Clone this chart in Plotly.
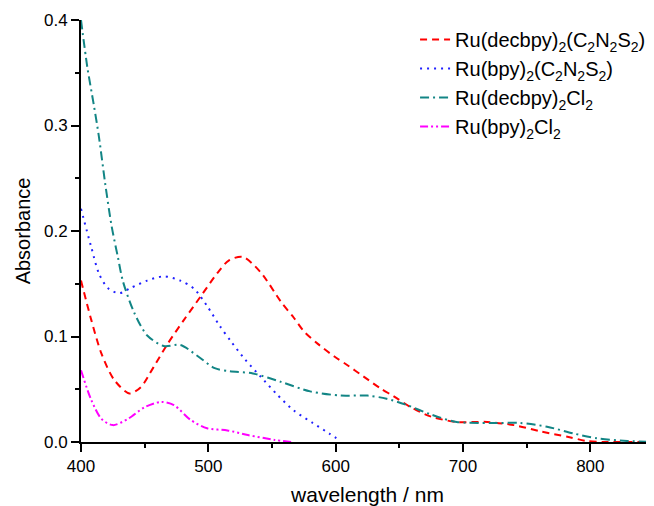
import plotly.graph_objects as go

# Ru(decbpy)2(C2N2S2) - red dashed
wl_red = [400, 408, 416, 426, 438, 447, 457, 468, 481, 494, 507, 516, 527, 541, 557, 567, 575, 586, 599, 609, 622, 635, 646, 659, 675, 695, 719, 740, 761, 782, 797, 810, 830, 850]
ab_red = [0.153, 0.116, 0.084, 0.059, 0.046, 0.052, 0.071, 0.093, 0.116, 0.138, 0.160, 0.172, 0.1755, 0.161, 0.133, 0.118, 0.105, 0.093, 0.081, 0.073, 0.062, 0.051, 0.043, 0.033, 0.024, 0.019, 0.019, 0.016, 0.010, 0.005, 0.001, 0.0, 0.0, 0.0]

# Ru(bpy)2(C2N2S2) - blue dotted
wl_blue = [400, 408, 414, 421, 430, 439, 452, 465, 478, 489, 499, 509, 518, 529, 541, 554, 567, 582, 595, 604]
ab_blue = [0.221, 0.185, 0.160, 0.146, 0.141, 0.146, 0.153, 0.157, 0.153, 0.145, 0.129, 0.110, 0.095, 0.078, 0.062, 0.045, 0.030, 0.018, 0.008, 0.001]

# Ru(decbpy)2Cl2 - teal dash-dot
wl_teal = [400, 405, 410, 414, 419, 424, 429, 433, 442, 452, 465, 478, 491, 505, 517, 535, 557, 580, 604, 625, 640, 656, 675, 695, 722, 745, 766, 787, 805, 829, 850]
ab_teal = [0.400, 0.355, 0.320, 0.290, 0.245, 0.205, 0.175, 0.152, 0.122, 0.101, 0.091, 0.092, 0.082, 0.070, 0.067, 0.065, 0.057, 0.048, 0.044, 0.044, 0.041, 0.035, 0.026, 0.019, 0.018, 0.018, 0.0145, 0.008, 0.0035, 0.001, 0.0]

# Ru(bpy)2Cl2 - magenta dash-dot-dot
wl_mag = [400, 408, 416, 425, 437, 450, 463, 473, 486, 499, 515, 531, 552, 565]
ab_mag = [0.068, 0.040, 0.022, 0.016, 0.022, 0.033, 0.038, 0.035, 0.021, 0.013, 0.011, 0.0066, 0.002, 0.0]

names = ["Ru(decbpy)<sub>2</sub>(C<sub>2</sub>N<sub>2</sub>S<sub>2</sub>)",
         "Ru(bpy)<sub>2</sub>(C<sub>2</sub>N<sub>2</sub>S<sub>2</sub>)",
         "Ru(decbpy)<sub>2</sub>Cl<sub>2</sub>",
         "Ru(bpy)<sub>2</sub>Cl<sub>2</sub>"]

series = [
    (wl_red, ab_red, "#FF0000", "7px,5px"),
    (wl_blue, ab_blue, "#2020FF", "2px,5px"),
    (wl_teal, ab_teal, "#128585", "9px,4px,2px,4px"),
    (wl_mag, ab_mag, "#FF00FF", "8px,3px,2px,3px,2px,3px"),
]

fig = go.Figure()
for (x, y, c, d), n in zip(series, names):
    fig.add_trace(go.Scatter(x=x, y=y, mode="lines", name=n,
                             line=dict(color=c, width=2, dash=d, shape="spline", smoothing=0.8)))

# page body has an 8px margin: figure is 8px smaller and margins shifted accordingly
fig.update_layout(
    width=646, height=498,
    margin=dict(l=73, r=0, t=12, b=64, autoexpand=False),
    plot_bgcolor="white", paper_bgcolor="white",
    font=dict(family="Liberation Sans, Arial, sans-serif", color="black"),
    legend=dict(x=0.583, y=1.0, xanchor="left", yanchor="top",
                font=dict(size=20), bgcolor="rgba(0,0,0,0)", tracegroupgap=0),
    showlegend=True,
)
fig.update_xaxes(range=[400, 850], dtick=100, tick0=400, showline=True, linecolor="black", linewidth=2,
                 ticks="outside", ticklen=8, tickwidth=2, tickcolor="black",
                 minor=dict(dtick=50, ticks="outside", ticklen=4, tickwidth=2, tickcolor="black"),
                 showgrid=False, zeroline=False, tickfont=dict(size=17),
                 title=dict(text="wavelength / nm", font=dict(size=21), standoff=14))
fig.update_yaxes(range=[0, 0.4], dtick=0.1, tickformat=".1f", showline=True, linecolor="black", linewidth=2,
                 ticks="outside", ticklen=8, tickwidth=2, tickcolor="black",
                 minor=dict(dtick=0.05, ticks="outside", ticklen=4, tickwidth=2, tickcolor="black"),
                 showgrid=False, zeroline=False, tickfont=dict(size=17),
                 title=dict(text="Absorbance", font=dict(size=20), standoff=8))

fig.write_html("out.html")
